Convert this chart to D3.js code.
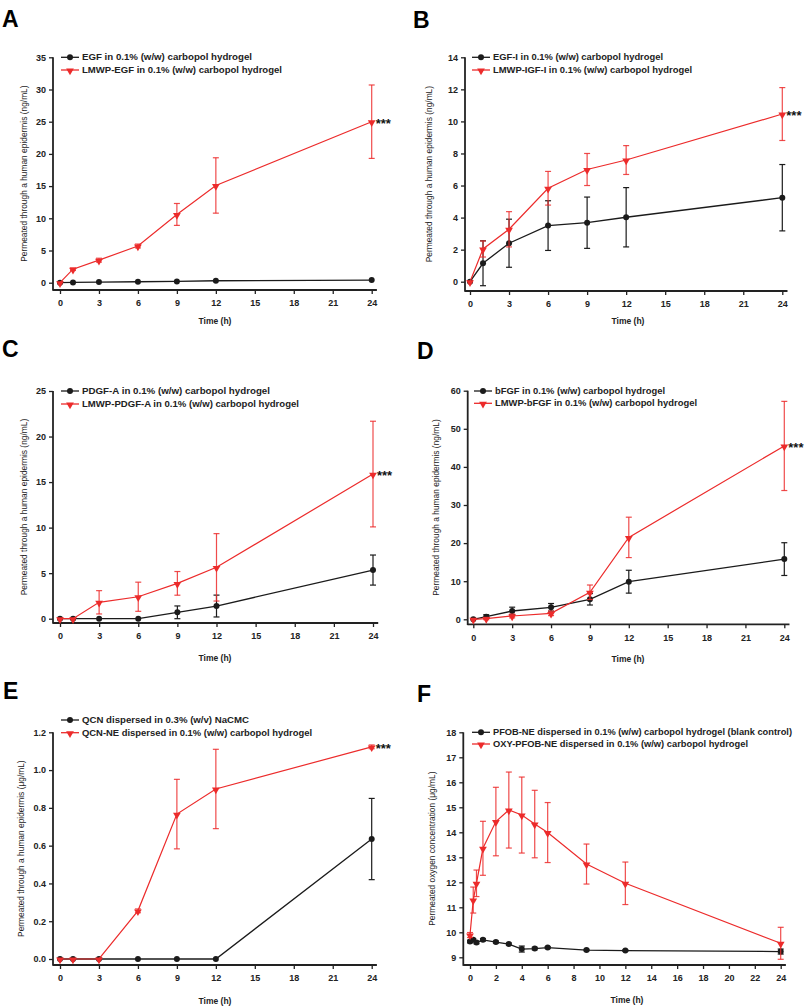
<!DOCTYPE html>
<html>
<head>
<meta charset="utf-8">
<script src="https://cdn.jsdelivr.net/npm/d3@7"></script>
<style>
  html, body { margin: 0; padding: 0; background: #fff; }
  svg { display: block; font-family: "Liberation Sans", Arial, sans-serif; }
</style>
</head>
<body>
<svg id="chart" width="812" height="1008"></svg>
<script>
// ---------------- DATA ----------------
const timesStd = [0, 1, 3, 6, 9, 12, 24];
const timesF = [0, 0.25, 0.5, 1, 2, 3, 4, 5, 6, 9, 12, 24];
const xTicksStd = [0, 3, 6, 9, 12, 15, 18, 21, 24];
const xTicksF = [0, 2, 4, 6, 8, 10, 12, 14, 16, 18, 20, 22, 24];

// Panel A
const aBlackMean = [0, 0.05, 0.1, 0.15, 0.2, 0.3, 0.4];
const aBlackSD   = [0, 0, 0, 0, 0, 0, 0];
const aRedMean   = [0, 2.1, 3.5, 5.7, 10.6, 15.1, 25.0];
const aRedSD     = [0, 0.2, 0.3, 0.3, 1.7, 4.3, 5.7];
const aYTicks    = [0, 5, 10, 15, 20, 25, 30, 35];

// Panel B
const bBlackMean = [0, 1.15, 2.4, 3.5, 3.68, 4.02, 5.24];
const bBlackSD   = [0, 1.4, 1.5, 1.55, 1.6, 1.85, 2.07];
const bRedMean   = [0, 2.04, 3.27, 5.83, 7.0, 7.59, 10.46];
const bRedSD     = [0, 0.5, 1.1, 1.05, 1.0, 0.9, 1.65];
const bYTicks    = [0, 2, 4, 6, 8, 10, 12, 14];

// Panel C
const cBlackMean = [0, 0, 0, 0, 0.7, 1.39, 5.34];
const cBlackSD   = [0, 0, 0, 0, 0.7, 1.2, 1.65];
const cRedMean   = [0, 0, 1.8, 2.41, 3.88, 5.64, 15.88];
const cRedSD     = [0, 0, 1.28, 1.6, 1.3, 3.7, 5.8];
const cYTicks    = [0, 5, 10, 15, 20, 25];

// Panel D
const dBlackMean = [0, 0.7, 2.18, 3.15, 5.25, 9.87, 15.8];
const dBlackSD   = [0, 0.5, 1.0, 1.0, 1.5, 3.0, 4.3];
const dRedMean   = [0, 0.2, 0.87, 1.57, 7.1, 21.5, 45.5];
const dRedSD     = [0, 0.3, 0.5, 0.6, 1.9, 5.3, 11.7];
const dYTicks    = [0, 10, 20, 30, 40, 50, 60];

// Panel E
const eBlackMean = [0, 0, 0, 0, 0, 0, 0.635];
const eBlackSD   = [0, 0, 0, 0, 0, 0, 0.215];
const eRedMean   = [0, 0, 0, 0.255, 0.767, 0.9, 1.123];
const eRedSD     = [0, 0, 0, 0.01, 0.184, 0.21, 0.01];
const eYTicks    = [0, 0.2, 0.4, 0.6, 0.8, 1.0, 1.2];

// Panel F
const fBlackMean = [9.63, 9.7, 9.59, 9.7, 9.61, 9.53, 9.33, 9.35, 9.39, 9.29, 9.27, 9.23];
const fBlackSD   = [0.05, 0.05, 0.05, 0.05, 0.04, 0.04, 0.12, 0.05, 0.04, 0.03, 0.03, 0.1];
const fRedMean   = [9.89, 11.29, 11.96, 13.36, 14.43, 14.89, 14.69, 14.33, 13.99, 12.73, 11.96, 9.56];
const fRedSD     = [0.1, 0.52, 0.53, 1.08, 1.37, 1.52, 1.52, 1.35, 1.2, 0.8, 0.85, 0.64];
const fYTicks    = [9, 10, 11, 12, 13, 14, 15, 16, 17, 18];

const legendLabels = {
  A: ["EGF in 0.1% (w/w) carbopol hydrogel", "LMWP-EGF in 0.1% (w/w) carbopol hydrogel"],
  B: ["EGF-I in 0.1% (w/w) carbopol hydrogel", "LMWP-IGF-I in 0.1% (w/w) carbopol hydrogel"],
  C: ["PDGF-A in 0.1% (w/w) carbopol hydrogel", "LMWP-PDGF-A in 0.1% (w/w) carbopol hydrogel"],
  D: ["bFGF in 0.1% (w/w) carbopol hydrogel", "LMWP-bFGF in 0.1% (w/w) carbopol hydrogel"],
  E: ["QCN dispersed in 0.3% (w/v) NaCMC", "QCN-NE dispersed in 0.1% (w/w) carbopol hydrogel"],
  F: ["PFOB-NE dispersed in 0.1% (w/w) carbopol hydrogel (blank control)", "OXY-PFOB-NE dispersed in 0.1% (w/w) carbopol hydrogel"]
};
const yTitleNg = "Permeated through a human epidermis (ng/mL)";
const yTitleUg = "Permeated through a human epidermis (\u03bcg/mL)";
const yTitleOx = "Permeated oxygen concentration (\u03bcg/mL)";
const xTitle = "Time (h)";

// ---------------- STYLE / LAYOUT ----------------
const RED = "#ec2b2b";
const BLACK = "#1b1b1b";
const FONT_TICK = 9;
const FONT_LEG = 8.2;
const FONT_TITLE = 8.4;

const panels = [
  { letter: "A", lx: 2, ly: 27, xr: [60, 371.7], yDom: [0, 35], yr: [282.7, 57.3], yAxisX: 53, xAxisY: 290,
    legX: 61, legY: [57.3, 70], yTitle: yTitleNg, yTitleX: 25, xTitleXY: [215, 324],
    times: timesStd, xTicks: xTicksStd, yTicks: aYTicks, fmt: d3.format("d"),
    black: [aBlackMean, aBlackSD], red: [aRedMean, aRedSD], stars: true, legW: [170, 200] },
  { letter: "B", lx: 413, ly: 28, xr: [470, 782.3], yDom: [0, 14], yr: [281.7, 57.3], yAxisX: 465, xAxisY: 291,
    legX: 472, legY: [57.3, 70], yTitle: yTitleNg, yTitleX: 430, xTitleXY: [628, 324],
    times: timesStd, xTicks: xTicksStd, yTicks: bYTicks, fmt: d3.format("d"),
    black: [bBlackMean, bBlackSD], red: [bRedMean, bRedSD], stars: true, legW: [170, 199] },
  { letter: "C", lx: 2, ly: 357, xr: [60, 373], yDom: [0, 25], yr: [618.7, 391], yAxisX: 53, xAxisY: 623,
    legX: 61, legY: [391, 404], yTitle: yTitleNg, yTitleX: 25, xTitleXY: [215, 661],
    times: timesStd, xTicks: xTicksStd, yTicks: cYTicks, fmt: d3.format("d"),
    black: [cBlackMean, cBlackSD], red: [cRedMean, cRedSD], stars: true, legW: [188, 217] },
  { letter: "D", lx: 417, ly: 359, xr: [473.3, 784.3], yDom: [0, 60], yr: [619.3, 390.7], yAxisX: 467.7, xAxisY: 624.3,
    legX: 474, legY: [391, 403.3], yTitle: yTitleNg, yTitleX: 437, xTitleXY: [628, 662],
    times: timesStd, xTicks: xTicksStd, yTicks: dYTicks, fmt: d3.format("d"),
    black: [dBlackMean, dBlackSD], red: [dRedMean, dRedSD], stars: true, legW: [170, 202] },
  { letter: "E", lx: 3, ly: 699, xr: [60, 371.7], yDom: [0, 1.2], yr: [959, 732.3], yAxisX: 53, xAxisY: 965,
    legX: 61, legY: [720, 732.7], yTitle: yTitleUg, yTitleX: 22, xTitleXY: [215, 1004],
    times: timesStd, xTicks: xTicksStd, yTicks: eYTicks, fmt: d3.format(".1f"),
    black: [eBlackMean, eBlackSD], red: [eRedMean, eRedSD], stars: true, legW: [167, 230] },
  { letter: "F", lx: 417, ly: 702, xr: [470, 780.7], yDom: [9, 18], yr: [957.3, 732.3], yAxisX: 463.3, xAxisY: 965,
    legX: 472, legY: [732.3, 744], yTitle: yTitleOx, yTitleX: 433, xTitleXY: [627, 1003],
    times: timesF, xTicks: xTicksF, yTicks: fYTicks, fmt: d3.format("d"),
    black: [fBlackMean, fBlackSD], red: [fRedMean, fRedSD], stars: false, legW: [299, 255] }
];

const svg = d3.select("#chart");
const triangle = d3.symbol().type(d3.symbolTriangle).size(26);

function drawSeries(g, x, y, times, mean, sd, color, isRed) {
  const pts = times.map((t, i) => ({ t, m: mean[i], s: sd[i] }));
  const line = d3.line().x(d => x(d.t)).y(d => y(d.m));
  g.append("path").datum(pts)
    .attr("d", line).attr("fill", "none")
    .attr("stroke", color).attr("stroke-width", isRed ? 1.2 : 1.3);
  const eb = g.append("g").attr("stroke", color).attr("stroke-width", 1.2)
    .attr("stroke-opacity", isRed ? 0.85 : 1);
  pts.filter(d => d.s > 0.0001).forEach(d => {
    const cx = x(d.t), y1 = y(d.m + d.s), y2 = y(d.m - d.s);
    eb.append("line").attr("x1", cx).attr("x2", cx).attr("y1", y1).attr("y2", y2);
    eb.append("line").attr("x1", cx - 3).attr("x2", cx + 3).attr("y1", y1).attr("y2", y1);
    eb.append("line").attr("x1", cx - 3).attr("x2", cx + 3).attr("y1", y2).attr("y2", y2);
  });
  const mk = g.append("g");
  if (isRed) {
    mk.selectAll("path").data(pts).join("path")
      .attr("d", triangle)
      .attr("transform", d => `translate(${x(d.t)},${y(d.m) + 0.8}) rotate(180)`)
      .attr("fill", color);
  } else {
    mk.selectAll("circle").data(pts).join("circle")
      .attr("cx", d => x(d.t)).attr("cy", d => y(d.m)).attr("r", 3)
      .attr("fill", color);
  }
}

panels.forEach(p => {
  const g = svg.append("g");
  const x = d3.scaleLinear().domain([0, 24]).range(p.xr);
  const y = d3.scaleLinear().domain(p.yDom).range(p.yr);

  // panel letter
  g.append("text").attr("x", p.lx).attr("y", p.ly)
    .attr("font-size", 23).attr("font-weight", "bold").attr("fill", "#000").text(p.letter);

  // Y axis
  const ya = g.append("g").attr("transform", `translate(${p.yAxisX},0)`)
    .call(d3.axisLeft(y).tickValues(p.yTicks).tickFormat(p.fmt).tickSize(4).tickPadding(3));
  ya.select(".domain").remove();
  ya.selectAll("line").attr("stroke", "#222").attr("stroke-width", 1.3);
  ya.selectAll("text").attr("font-size", FONT_TICK).attr("font-weight", "bold")
    .attr("font-family", "Liberation Sans, Arial, sans-serif").attr("fill", "#222");
  g.append("line").attr("x1", p.yAxisX).attr("x2", p.yAxisX)
    .attr("y1", y(p.yDom[1])).attr("y2", p.xAxisY + 0.8)
    .attr("stroke", "#222").attr("stroke-width", 1.8);

  // X axis
  const xa = g.append("g").attr("transform", `translate(0,${p.xAxisY})`)
    .call(d3.axisBottom(x).tickValues(p.xTicks).tickFormat(d3.format("d")).tickSize(4).tickPadding(6));
  xa.select(".domain").remove();
  xa.selectAll("line").attr("stroke", "#222").attr("stroke-width", 1.3);
  xa.selectAll("text").attr("font-size", FONT_TICK).attr("font-weight", "bold")
    .attr("font-family", "Liberation Sans, Arial, sans-serif").attr("fill", "#222");
  g.append("line").attr("x1", p.yAxisX).attr("x2", x(24.4))
    .attr("y1", p.xAxisY).attr("y2", p.xAxisY)
    .attr("stroke", "#222").attr("stroke-width", 1.8);

  // axis titles
  const yMid = (y(p.yDom[1]) + p.xAxisY) / 2;
  g.append("text").attr("transform", `translate(${p.yTitleX},${yMid}) rotate(-90)`)
    .attr("text-anchor", "middle").attr("dominant-baseline", "middle")
    .attr("font-size", FONT_TITLE).attr("fill", "#222").text(p.yTitle);
  g.append("text").attr("x", p.xTitleXY[0]).attr("y", p.xTitleXY[1])
    .attr("text-anchor", "middle").attr("font-size", 8.5).attr("font-weight", "bold")
    .attr("fill", "#222").text(xTitle);

  // series
  drawSeries(g, x, y, p.times, p.black[0], p.black[1], BLACK, false);
  drawSeries(g, x, y, p.times, p.red[0], p.red[1], RED, true);

  // stars
  if (p.stars) {
    const last = p.red[0][p.red[0].length - 1];
    g.append("text").attr("x", x(24) + 4).attr("y", y(last) + 6)
      .attr("font-size", 13).attr("font-weight", "bold").attr("fill", "#111").text("***");
  }

  // legend
  const leg = g.append("g");
  [[BLACK, false], [RED, true]].forEach(([c, isRed], i) => {
    const ly = p.legY[i];
    leg.append("line").attr("x1", p.legX).attr("x2", p.legX + 18)
      .attr("y1", ly).attr("y2", ly).attr("stroke", c).attr("stroke-width", 1.3);
    if (isRed) {
      leg.append("path").attr("d", triangle)
        .attr("transform", `translate(${p.legX + 9},${ly + 0.8}) rotate(180)`).attr("fill", c);
    } else {
      leg.append("circle").attr("cx", p.legX + 9).attr("cy", ly).attr("r", 3).attr("fill", c);
    }
    leg.append("text").attr("x", p.legX + 21).attr("y", ly + 3)
      .attr("font-size", FONT_LEG).attr("font-weight", "bold").attr("fill", "#222")
      .attr("textLength", p.legW[i]).attr("lengthAdjust", "spacingAndGlyphs")
      .text(legendLabels[p.letter][i]);
  });
});
</script>
</body>
</html>
